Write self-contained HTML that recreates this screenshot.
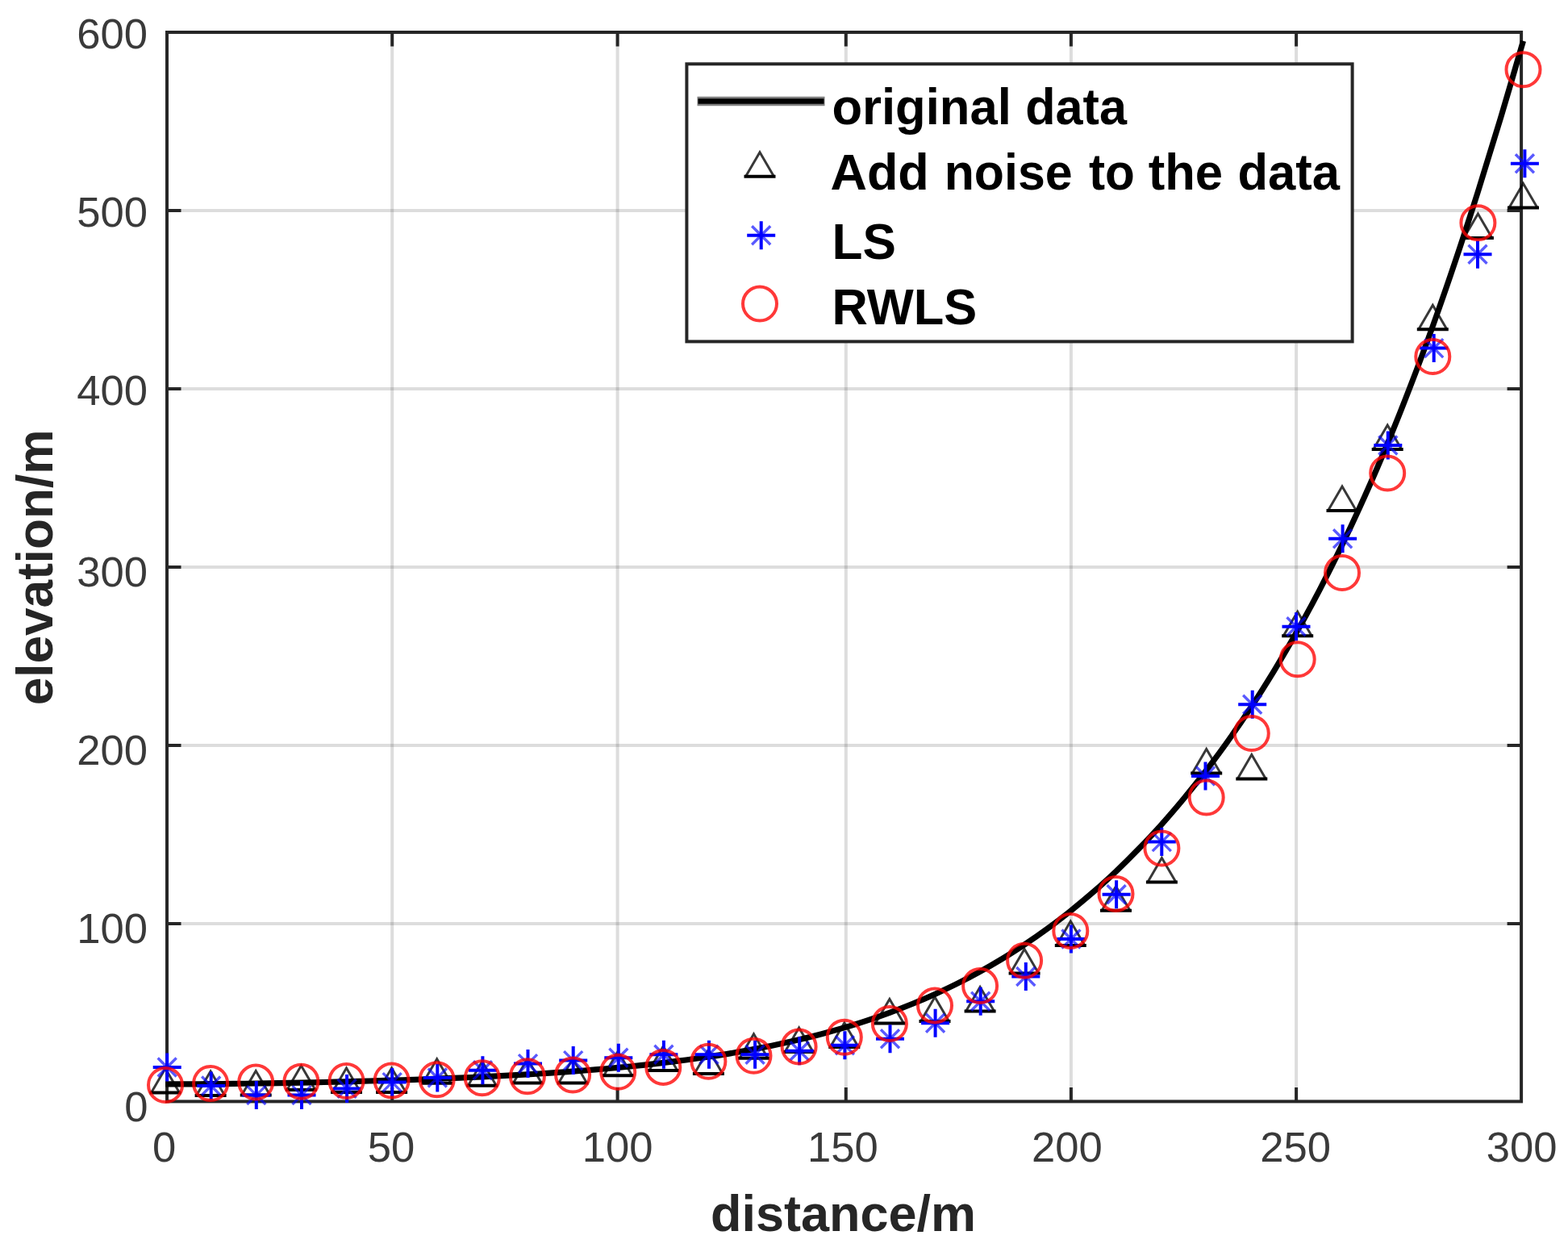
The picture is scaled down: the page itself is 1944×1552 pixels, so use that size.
<!DOCTYPE html>
<html lang="en"><head><meta charset="utf-8"><title>elevation vs distance</title>
<style>
html,body{margin:0;padding:0;background:#fff;}
body{width:1944px;height:1552px;overflow:hidden;}
svg{display:block;filter:blur(0.7px);}
text{font-family:"Liberation Sans",sans-serif;}
.tk{font-size:52.6px;fill:#3a3a3a;}
.lb{font-size:63px;font-weight:bold;fill:#262626;}
.lg{font-size:63px;font-weight:bold;fill:#000;}
</style></head><body>
<svg width="1944" height="1552" viewBox="0 0 1944 1552">
<defs>
<g id="tri" fill="none" stroke="#000"><path d="M-17.5 10L0 -20L17.5 10" stroke-width="3" stroke-linejoin="miter" stroke-opacity="0.78"/><path d="M-19.5 10H19.5" stroke-width="4"/></g>
<g id="ast" stroke="#00f" fill="none"><path d="M-17.5 0H17.5M0 -17.5V17.5" stroke-width="4"/><path d="M-11.5 -11.5L11.5 11.5M-11.5 11.5L11.5 -11.5" stroke-width="3.4" stroke-opacity="0.65"/></g>
<g id="cir"><circle r="21" fill="none" stroke="#f00" stroke-width="4" stroke-opacity="0.78"/></g>
</defs>
<rect width="1944" height="1552" fill="#fff"/>
<path d="M486.2 40 V1365.4 M765.6 40 V1365.4 M1048.8 40 V1365.4 M1327.9 40 V1365.4 M1607.1 40 V1365.4" stroke="#262626" stroke-opacity="0.155" stroke-width="4" fill="none"/>
<path d="M207 1145 H1886.1 M207 923.9 H1886.1 M207 702.9 H1886.1 M207 482 H1886.1 M207 261 H1886.1" stroke="#262626" stroke-opacity="0.155" stroke-width="4" fill="none"/>
<path d="M486.2 40 v17.5 M486.2 1365.4 v-17.5 M765.6 40 v17.5 M765.6 1365.4 v-17.5 M1048.8 40 v17.5 M1048.8 1365.4 v-17.5 M1327.9 40 v17.5 M1327.9 1365.4 v-17.5 M1607.1 40 v17.5 M1607.1 1365.4 v-17.5 M207 1145 h17.5 M1886.1 1145 h-17.5 M207 923.9 h17.5 M1886.1 923.9 h-17.5 M207 702.9 h17.5 M1886.1 702.9 h-17.5 M207 482 h17.5 M1886.1 482 h-17.5 M207 261 h17.5 M1886.1 261 h-17.5" stroke="#262626" stroke-width="4" fill="none"/>
<rect x="207" y="40" width="1679.1" height="1325.4" fill="none" stroke="#262626" stroke-width="4"/>
<path d="M205 1343.9 C209.7 1343.9 223.7 1343.9 233.1 1343.9 C242.4 1343.8 251.8 1343.8 261.1 1343.7 C270.5 1343.6 279.8 1343.5 289.2 1343.4 C298.5 1343.3 307.9 1343.2 317.2 1343 C326.6 1342.9 335.9 1342.8 345.3 1342.6 C354.6 1342.4 364 1342.2 373.4 1342.1 C382.7 1341.9 392.1 1341.7 401.4 1341.5 C410.8 1341.2 420.1 1341 429.5 1340.8 C438.8 1340.5 448.2 1340.3 457.5 1340 C466.9 1339.8 476.2 1339.5 485.6 1339.2 C494.9 1338.9 504.3 1338.6 513.6 1338.3 C523 1337.9 532.3 1337.6 541.7 1337.2 C551.1 1336.9 560.4 1336.5 569.8 1336.1 C579.1 1335.7 588.5 1335.3 597.8 1334.8 C607.2 1334.4 616.5 1333.9 625.9 1333.4 C635.2 1332.9 644.6 1332.4 653.9 1331.9 C663.3 1331.3 672.6 1330.7 682 1330.1 C691.3 1329.5 700.7 1328.8 710.1 1328.1 C719.4 1327.4 728.8 1326.7 738.1 1325.9 C747.5 1325.1 756.8 1324.3 766.2 1323.4 C775.5 1322.5 784.9 1321.6 794.2 1320.6 C803.6 1319.7 812.9 1318.6 822.3 1317.5 C831.6 1316.4 841 1315.2 850.3 1314 C859.7 1312.7 869.1 1311.4 878.4 1310 C887.8 1308.6 897.1 1307.2 906.5 1305.6 C915.8 1304 925.2 1302.4 934.5 1300.6 C943.9 1298.8 953.2 1297 962.6 1295 C971.9 1293 981.3 1290.9 990.6 1288.7 C1000 1286.5 1009.3 1284.2 1018.7 1281.7 C1028 1279.2 1037.4 1276.6 1046.8 1273.9 C1056.1 1271.1 1065.5 1268.2 1074.8 1265.1 C1084.2 1262 1093.5 1258.8 1102.9 1255.3 C1112.2 1251.9 1121.6 1248.3 1130.9 1244.5 C1140.3 1240.7 1149.6 1236.7 1159 1232.4 C1168.3 1228.2 1177.7 1223.8 1187 1219.1 C1196.4 1214.4 1205.8 1209.5 1215.1 1204.3 C1224.5 1199.2 1233.8 1193.8 1243.2 1188.1 C1252.5 1182.4 1261.9 1176.5 1271.2 1170.2 C1280.6 1164 1289.9 1157.5 1299.3 1150.6 C1308.6 1143.8 1318 1136.7 1327.3 1129.2 C1336.7 1121.7 1346 1113.9 1355.4 1105.8 C1364.8 1097.7 1374.1 1089.2 1383.5 1080.3 C1392.8 1071.5 1402.2 1062.2 1411.5 1052.6 C1420.9 1043 1430.2 1033 1439.6 1022.6 C1448.9 1012.1 1458.3 1001.3 1467.6 990 C1477 978.7 1486.3 967 1495.7 954.8 C1505 942.5 1514.4 929.9 1523.7 916.7 C1533.1 903.5 1542.5 889.8 1551.8 875.5 C1561.2 861.3 1570.5 846.5 1579.9 831.1 C1589.2 815.7 1598.6 799.7 1607.9 783.1 C1617.3 766.5 1626.6 749.3 1636 731.3 C1645.3 713.4 1654.7 694.8 1664 675.4 C1673.4 656 1682.7 636 1692.1 615.1 C1701.5 594.1 1710.8 572.5 1720.2 550 C1729.5 527.4 1738.9 504.1 1748.2 479.8 C1757.6 455.6 1766.9 430.5 1776.3 404.4 C1785.6 378.4 1795 351.5 1804.3 323.7 C1813.7 295.8 1823 267.1 1832.4 237.5 C1841.7 207.9 1851.1 177.4 1860.5 146.3 C1869.8 115.2 1883.8 66.6 1888.5 50.7" stroke="#000" stroke-width="7.2" fill="none" stroke-linejoin="round"/>
<g><use href="#tri" x="205" y="1344.5"/><use href="#tri" x="261.1" y="1348"/><use href="#tri" x="317.2" y="1347.6"/><use href="#tri" x="373.4" y="1341"/><use href="#tri" x="429.5" y="1344"/><use href="#tri" x="485.6" y="1344"/><use href="#tri" x="541.7" y="1332.8"/><use href="#tri" x="597.8" y="1335.7"/><use href="#tri" x="653.9" y="1332.4"/><use href="#tri" x="710.1" y="1332.4"/><use href="#tri" x="766.2" y="1323.3"/><use href="#tri" x="822.3" y="1317"/><use href="#tri" x="878.4" y="1321"/><use href="#tri" x="934.5" y="1301.7"/><use href="#tri" x="990.6" y="1293.9"/><use href="#tri" x="1046.8" y="1288"/><use href="#tri" x="1102.9" y="1258.5"/><use href="#tri" x="1159" y="1256"/><use href="#tri" x="1215.1" y="1243.5"/><use href="#tri" x="1270.1" y="1196.5"/><use href="#tri" x="1327.3" y="1162"/><use href="#tri" x="1383.5" y="1118.8"/><use href="#tri" x="1440.4" y="1083.5"/><use href="#tri" x="1495.7" y="948.5"/><use href="#tri" x="1551.8" y="955.5"/><use href="#tri" x="1608.7" y="778.3"/><use href="#tri" x="1664" y="623"/><use href="#tri" x="1720.2" y="547"/><use href="#tri" x="1776.3" y="398.3"/><use href="#tri" x="1832.4" y="285"/><use href="#tri" x="1888.5" y="247.5"/></g>
<g><use href="#ast" x="207.2" y="1323"/><use href="#ast" x="261.7" y="1346"/><use href="#ast" x="317.8" y="1357.6"/><use href="#ast" x="374" y="1357.6"/><use href="#ast" x="430.1" y="1349.4"/><use href="#ast" x="486.2" y="1341.6"/><use href="#ast" x="542.3" y="1336"/><use href="#ast" x="598.4" y="1326.8"/><use href="#ast" x="654.5" y="1318.6"/><use href="#ast" x="710.7" y="1314.6"/><use href="#ast" x="766.8" y="1311.2"/><use href="#ast" x="822.9" y="1307.2"/><use href="#ast" x="879" y="1307.2"/><use href="#ast" x="936.1" y="1307.2"/><use href="#ast" x="991.2" y="1302.8"/><use href="#ast" x="1047.4" y="1295.7"/><use href="#ast" x="1103.5" y="1287.7"/><use href="#ast" x="1159.6" y="1268.2"/><use href="#ast" x="1215.7" y="1241.2"/><use href="#ast" x="1271.8" y="1210.5"/><use href="#ast" x="1327.9" y="1164"/><use href="#ast" x="1384.1" y="1108.7"/><use href="#ast" x="1440.3" y="1043.6"/><use href="#ast" x="1494.5" y="962"/><use href="#ast" x="1552.7" y="873.2"/><use href="#ast" x="1607" y="776.8"/><use href="#ast" x="1664.6" y="667.8"/><use href="#ast" x="1720.8" y="552"/><use href="#ast" x="1777.7" y="431.6"/><use href="#ast" x="1832" y="315.3"/><use href="#ast" x="1890.4" y="202.7"/></g>
<g><use href="#cir" x="205" y="1345"/><use href="#cir" x="261.1" y="1343"/><use href="#cir" x="317.2" y="1341.6"/><use href="#cir" x="373.4" y="1340.8"/><use href="#cir" x="429.5" y="1340"/><use href="#cir" x="485.6" y="1339.5"/><use href="#cir" x="541.7" y="1338.3"/><use href="#cir" x="597.8" y="1336.2"/><use href="#cir" x="653.9" y="1334.2"/><use href="#cir" x="710.1" y="1332.6"/><use href="#cir" x="766.2" y="1328.8"/><use href="#cir" x="822.3" y="1322.9"/><use href="#cir" x="878.4" y="1315.8"/><use href="#cir" x="934.5" y="1308.8"/><use href="#cir" x="990.6" y="1297.6"/><use href="#cir" x="1046.8" y="1285.8"/><use href="#cir" x="1102.9" y="1269"/><use href="#cir" x="1159" y="1246.4"/><use href="#cir" x="1215.1" y="1222.1"/><use href="#cir" x="1270.1" y="1190.8"/><use href="#cir" x="1327.3" y="1153.9"/><use href="#cir" x="1383.5" y="1107.9"/><use href="#cir" x="1440.4" y="1051.5"/><use href="#cir" x="1495.7" y="988.5"/><use href="#cir" x="1551.8" y="909"/><use href="#cir" x="1608.7" y="817.3"/><use href="#cir" x="1664" y="710"/><use href="#cir" x="1720.2" y="586.5"/><use href="#cir" x="1776.3" y="442"/><use href="#cir" x="1832.4" y="276.3"/><use href="#cir" x="1888.5" y="86.2"/></g>
<text class="tk" x="189" y="1440.2">0</text>
<text class="tk" x="455.7" y="1440.2">50</text>
<text class="tk" x="721.7" y="1440.2">100</text>
<text class="tk" x="1000.9" y="1440.2">150</text>
<text class="tk" x="1279.1" y="1440.2">200</text>
<text class="tk" x="1562.2" y="1440.2">250</text>
<text class="tk" x="1842.8" y="1440.2">300</text>
<text class="tk" x="154.2" y="1390">0</text>
<text class="tk" x="95.2" y="1169">100</text>
<text class="tk" x="95.2" y="947.5">200</text>
<text class="tk" x="95.2" y="727">300</text>
<text class="tk" x="95.2" y="501.5">400</text>
<text class="tk" x="95.2" y="281">500</text>
<text class="tk" x="95.2" y="60">600</text>
<text class="lb" y="1525.7"><tspan x="881">distance/m</tspan></text>
<text class="lb" transform="translate(64.8 874.3) rotate(-90)" textLength="341.8" lengthAdjust="spacingAndGlyphs">elevation/m</text>
<rect x="851.4" y="79.3" width="825.2" height="344.1" fill="#fff" stroke="#262626" stroke-width="4"/>
<path d="M864.5 125.5H1022.5" stroke="#000" stroke-opacity="0.5" stroke-width="11.5" fill="none"/>
<path d="M865.5 125.5H1021.5" stroke="#000" stroke-width="6.6" fill="none"/>
<use href="#tri" x="942" y="208.7"/>
<use href="#ast" x="943.7" y="291.8"/>
<use href="#cir" x="942" y="376.6"/>
<text class="lg" y="154"><tspan x="1031.4" textLength="222.4" lengthAdjust="spacingAndGlyphs">original</tspan> <tspan x="1271.2" textLength="125.7" lengthAdjust="spacingAndGlyphs">data</tspan></text>
<text class="lg" y="235.4"><tspan x="1029.4">Add</tspan> <tspan x="1170.7" textLength="158.9" lengthAdjust="spacingAndGlyphs">noise</tspan> <tspan x="1349.9" textLength="56.9" lengthAdjust="spacingAndGlyphs">to</tspan> <tspan x="1423.7" textLength="92.4" lengthAdjust="spacingAndGlyphs">the</tspan> <tspan x="1534.4" textLength="126.5" lengthAdjust="spacingAndGlyphs">data</tspan></text>
<text class="lg" y="320.8"><tspan x="1031.6" textLength="79.4" lengthAdjust="spacingAndGlyphs">LS</tspan></text>
<text class="lg" y="402.3"><tspan x="1031.6" textLength="179.6" lengthAdjust="spacingAndGlyphs">RWLS</tspan></text>
</svg>
</body></html>
